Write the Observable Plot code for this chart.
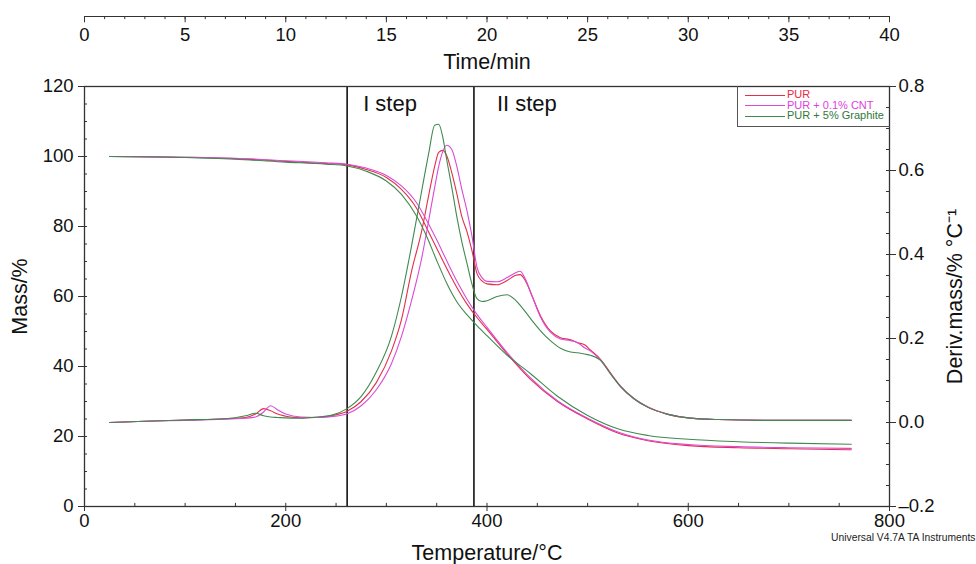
<!DOCTYPE html>
<html><head><meta charset="utf-8">
<script src="https://cdn.jsdelivr.net/npm/d3@7"></script>
<script src="https://cdn.jsdelivr.net/npm/@observablehq/plot@0.6"></script>
<style>
body{margin:0;background:#fff;}
#wrap{position:relative;width:976px;height:564px;font-family:"Liberation Sans",Arial,sans-serif;}
#legend{position:absolute;left:737px;top:86px;width:153px;height:41px;border-left:1px solid #555;border-bottom:1px solid #555;box-sizing:border-box;font-size:11px;}
#legend .row{position:absolute;left:7px;height:11px;line-height:11px;white-space:nowrap;}
#legend .sw{display:inline-block;width:40px;height:0;border-top:1.2px solid;vertical-align:middle;margin-right:2px;}
</style>
</head><body>
<div id="wrap"></div>
<script>
// ---- data ----
const seriesNames = ["PUR", "PUR + 0.1% CNT", "PUR + 5% Graphite"];
const seriesColors = ["#e2304a", "#d94ad6", "#3f8a4f"];
const legendTextColors = ["#e8293f", "#e03ee0", "#2f7a3a"];

const massT = [25,100,150,200,240,261,280,300,315,330,340,350,360,370,380,390,400,420,443,470,500,530,560,600,650,700,762];
const massPUR = [100,99.8,99.4,98.6,98.0,97.6,96.3,94.0,90.6,85.2,79.6,73.8,68.0,62.6,57.9,54.0,50.6,43.6,36.4,30.0,25.0,21.0,18.8,17.4,16.8,16.5,16.2];
const massCNT = [100,99.8,99.5,98.8,98.2,97.8,96.7,94.6,91.6,86.8,81.8,76.2,70.2,64.4,59.3,54.9,51.2,44.0,36.8,30.2,25.2,21.3,19.0,17.7,17.1,16.8,16.6];
const massGraphite = [100,99.7,99.2,98.4,97.8,97.3,95.8,93.0,89.2,83.0,77.2,70.3,63.8,58.5,54.8,51.7,48.8,43.2,38.0,31.5,26.0,22.2,20.3,19.2,18.5,18.1,17.8];

const dtgT = [25,60,100,140,160,170,178,185,192,200,215,230,245,261,275,290,305,315,325,335,342,348,352,356,360,365,370,375,380,385,390,395,400,410,420,428,433,438,445,453,463,473,483,490,497,503,513,523,533,546,560,579,600,630,680,762];
const dtgPUR = [0.0,0.003,0.006,0.009,0.012,0.020,0.033,0.028,0.020,0.015,0.011,0.012,0.016,0.027,0.050,0.095,0.17,0.245,0.36,0.455,0.54,0.61,0.643,0.648,0.635,0.595,0.545,0.49,0.455,0.41,0.355,0.337,0.33,0.328,0.338,0.35,0.352,0.338,0.30,0.255,0.218,0.202,0.197,0.19,0.185,0.172,0.15,0.117,0.086,0.057,0.037,0.02,0.011,0.007,0.005,0.005];
const dtgCNT = [0.0,0.003,0.005,0.008,0.010,0.013,0.025,0.040,0.030,0.020,0.013,0.012,0.014,0.021,0.040,0.078,0.14,0.205,0.29,0.39,0.48,0.56,0.61,0.645,0.66,0.65,0.61,0.555,0.505,0.445,0.37,0.345,0.336,0.335,0.345,0.356,0.36,0.342,0.30,0.252,0.215,0.199,0.195,0.19,0.178,0.17,0.148,0.115,0.084,0.056,0.036,0.02,0.011,0.007,0.005,0.005];
const dtgGraphite = [0.0,0.003,0.006,0.009,0.016,0.022,0.016,0.013,0.012,0.011,0.010,0.013,0.017,0.033,0.062,0.12,0.205,0.30,0.42,0.55,0.64,0.708,0.71,0.68,0.625,0.56,0.49,0.43,0.38,0.33,0.295,0.288,0.29,0.30,0.304,0.292,0.279,0.264,0.242,0.219,0.195,0.177,0.168,0.166,0.163,0.160,0.148,0.115,0.085,0.057,0.036,0.02,0.011,0.007,0.005,0.005];

const stepBounds = [261, 387];
const stepLabels = ["I step", "II step"];

const tempTicks = [0, 200, 400, 600, 800];
const tempMinor = d3.range(0, 801, 50);
const massTicks = [0, 20, 40, 60, 80, 100, 120];
const massMinor = d3.range(0, 121, 5);
const derivTicks = [-0.2, 0.0, 0.2, 0.4, 0.6, 0.8];
const derivMinor = d3.range(-0.2, 0.801, 0.05);
const timeTicks = [0, 5, 10, 15, 20, 25, 30, 35, 40];
const timeMinor = d3.range(0, 41, 1);

// secondary axes mappings (same pixel spans as primary axes)
const derivToMass = d => (d + 0.2) * 120;   // -0.2..0.8 -> 0..120
const timeToTemp = t => t * 20;             // 0..40 min -> 0..800 °C

// ---- build rows ----
const massSeries = [massPUR, massCNT, massGraphite];
const dtgSeries = [dtgPUR, dtgCNT, dtgGraphite];
const rows = [];
seriesNames.forEach((s, i) => {
  massT.forEach((T, j) => rows.push({T, y: massSeries[i][j], series: s, key: s + "|mass"}));
  dtgT.forEach((T, j) => rows.push({T, y: derivToMass(dtgSeries[i][j]), series: s, key: s + "|dtg"}));
});

const font = "Liberation Sans, Arial, sans-serif";
const axisColor = "#333";
const tickFont = 18.5;
const titleFont = 21.5;

const chart = Plot.plot({
  width: 976, height: 564,
  marginLeft: 84, marginRight: 87, marginTop: 86, marginBottom: 58,
  x: {domain: [0, 800]},
  y: {domain: [0, 120]},
  color: {domain: seriesNames, range: seriesColors},
  style: {fontFamily: font, fontSize: "16px", color: "#111", background: "#fff"},
  marks: [
    Plot.ruleX(stepBounds, {stroke: "#111", strokeWidth: 1.6}),
    Plot.line(rows, {x: "T", y: "y", z: "key", stroke: "series", strokeWidth: 1.1, curve: "monotone-x"}),
    Plot.frame({stroke: axisColor, strokeWidth: 1.3}),
    // step labels
    Plot.text([stepBounds[0]], {x: d => d, y: 120, text: [stepLabels[0]], dx: 16, dy: 17, textAnchor: "start", lineAnchor: "middle", fontSize: 22, fill: "#111"}),
    Plot.text([stepBounds[1]], {x: d => d, y: 120, text: [stepLabels[1]], dx: 23, dy: 17, textAnchor: "start", lineAnchor: "middle", fontSize: 22, fill: "#111"}),
    // bottom axis
    Plot.axisX({anchor: "bottom", ticks: tempTicks, tickSize: 5, tickPadding: 2, tickFormat: d => d, label: null, fontSize: tickFont, stroke: axisColor}),
    Plot.ruleX(tempMinor, {y1: 0, y2: 0.9, stroke: axisColor}),
    // left axis
    Plot.axisY({anchor: "left", ticks: massTicks, tickSize: 6, tickPadding: 5, tickFormat: d => d, label: null, fontSize: tickFont, stroke: axisColor}),
    Plot.ruleY(massMinor, {x1: 0, x2: 3, stroke: axisColor}),
    // right axis (Deriv.mass)
    Plot.axisY({anchor: "right", ticks: derivTicks.map(derivToMass), tickSize: 6, tickPadding: 3,
      tickFormat: m => d3.format(".1f")(Math.round((m / 120 - 0.2) * 10) / 10).replace("−", "–"), label: null, fontSize: tickFont, stroke: axisColor}),
    Plot.ruleY(derivMinor.map(derivToMass), {x1: 800, x2: 797, stroke: axisColor}),
    // top axis (Time/min), drawn above the frame
    Plot.ruleY([120], {x1: 0, x2: 800, dy: -70, stroke: axisColor, strokeWidth: 1.1}),
    Plot.ruleX(timeMinor.map(timeToTemp), {y1: 120, y2: 120 - 0.9, dy: -70, stroke: axisColor}),
    Plot.ruleX(timeTicks.map(timeToTemp), {y1: 120, y2: 120 - 1.8, dy: -70, stroke: axisColor}),
    Plot.text(timeTicks, {x: timeToTemp, y: 120, text: d => String(d), dy: -51, fontSize: tickFont, fill: "#111"}),
    // axis titles
    Plot.text(["Time/min"], {frameAnchor: "top", lineAnchor: "middle", dy: -24, fontSize: titleFont, fill: "#111"}),
    Plot.text(["Temperature/°C"], {frameAnchor: "bottom", lineAnchor: "middle", dy: 47, fontSize: titleFont, fill: "#111"}),
    Plot.text(["Mass/%"], {frameAnchor: "left", textAnchor: "middle", lineAnchor: "middle", dx: -64, rotate: -90, fontSize: titleFont, fill: "#111"}),
    Plot.text(["Deriv.mass/% °C⁻¹"], {frameAnchor: "right", textAnchor: "middle", lineAnchor: "middle", dx: 66, rotate: -90, fontSize: titleFont, fill: "#111"}),
    Plot.text(["Universal V4.7A TA Instruments"], {frameAnchor: "bottom-right", lineAnchor: "middle", dx: 86, dy: 31, textAnchor: "end", fontSize: 10.3, fill: "#222"})
  ]
});

const wrap = document.getElementById("wrap");
wrap.appendChild(chart);

// legend overlay
const legend = document.createElement("div");
legend.id = "legend";
seriesNames.forEach((s, i) => {
  const row = document.createElement("div");
  row.className = "row";
  row.style.top = (3 + i * 10.5) + "px";
  const sw = document.createElement("span");
  sw.className = "sw";
  sw.style.borderTopColor = seriesColors[i];
  const lab = document.createElement("span");
  lab.textContent = s;
  lab.style.color = legendTextColors[i];
  row.appendChild(sw); row.appendChild(lab);
  legend.appendChild(row);
});
wrap.appendChild(legend);
</script>
</body></html>
